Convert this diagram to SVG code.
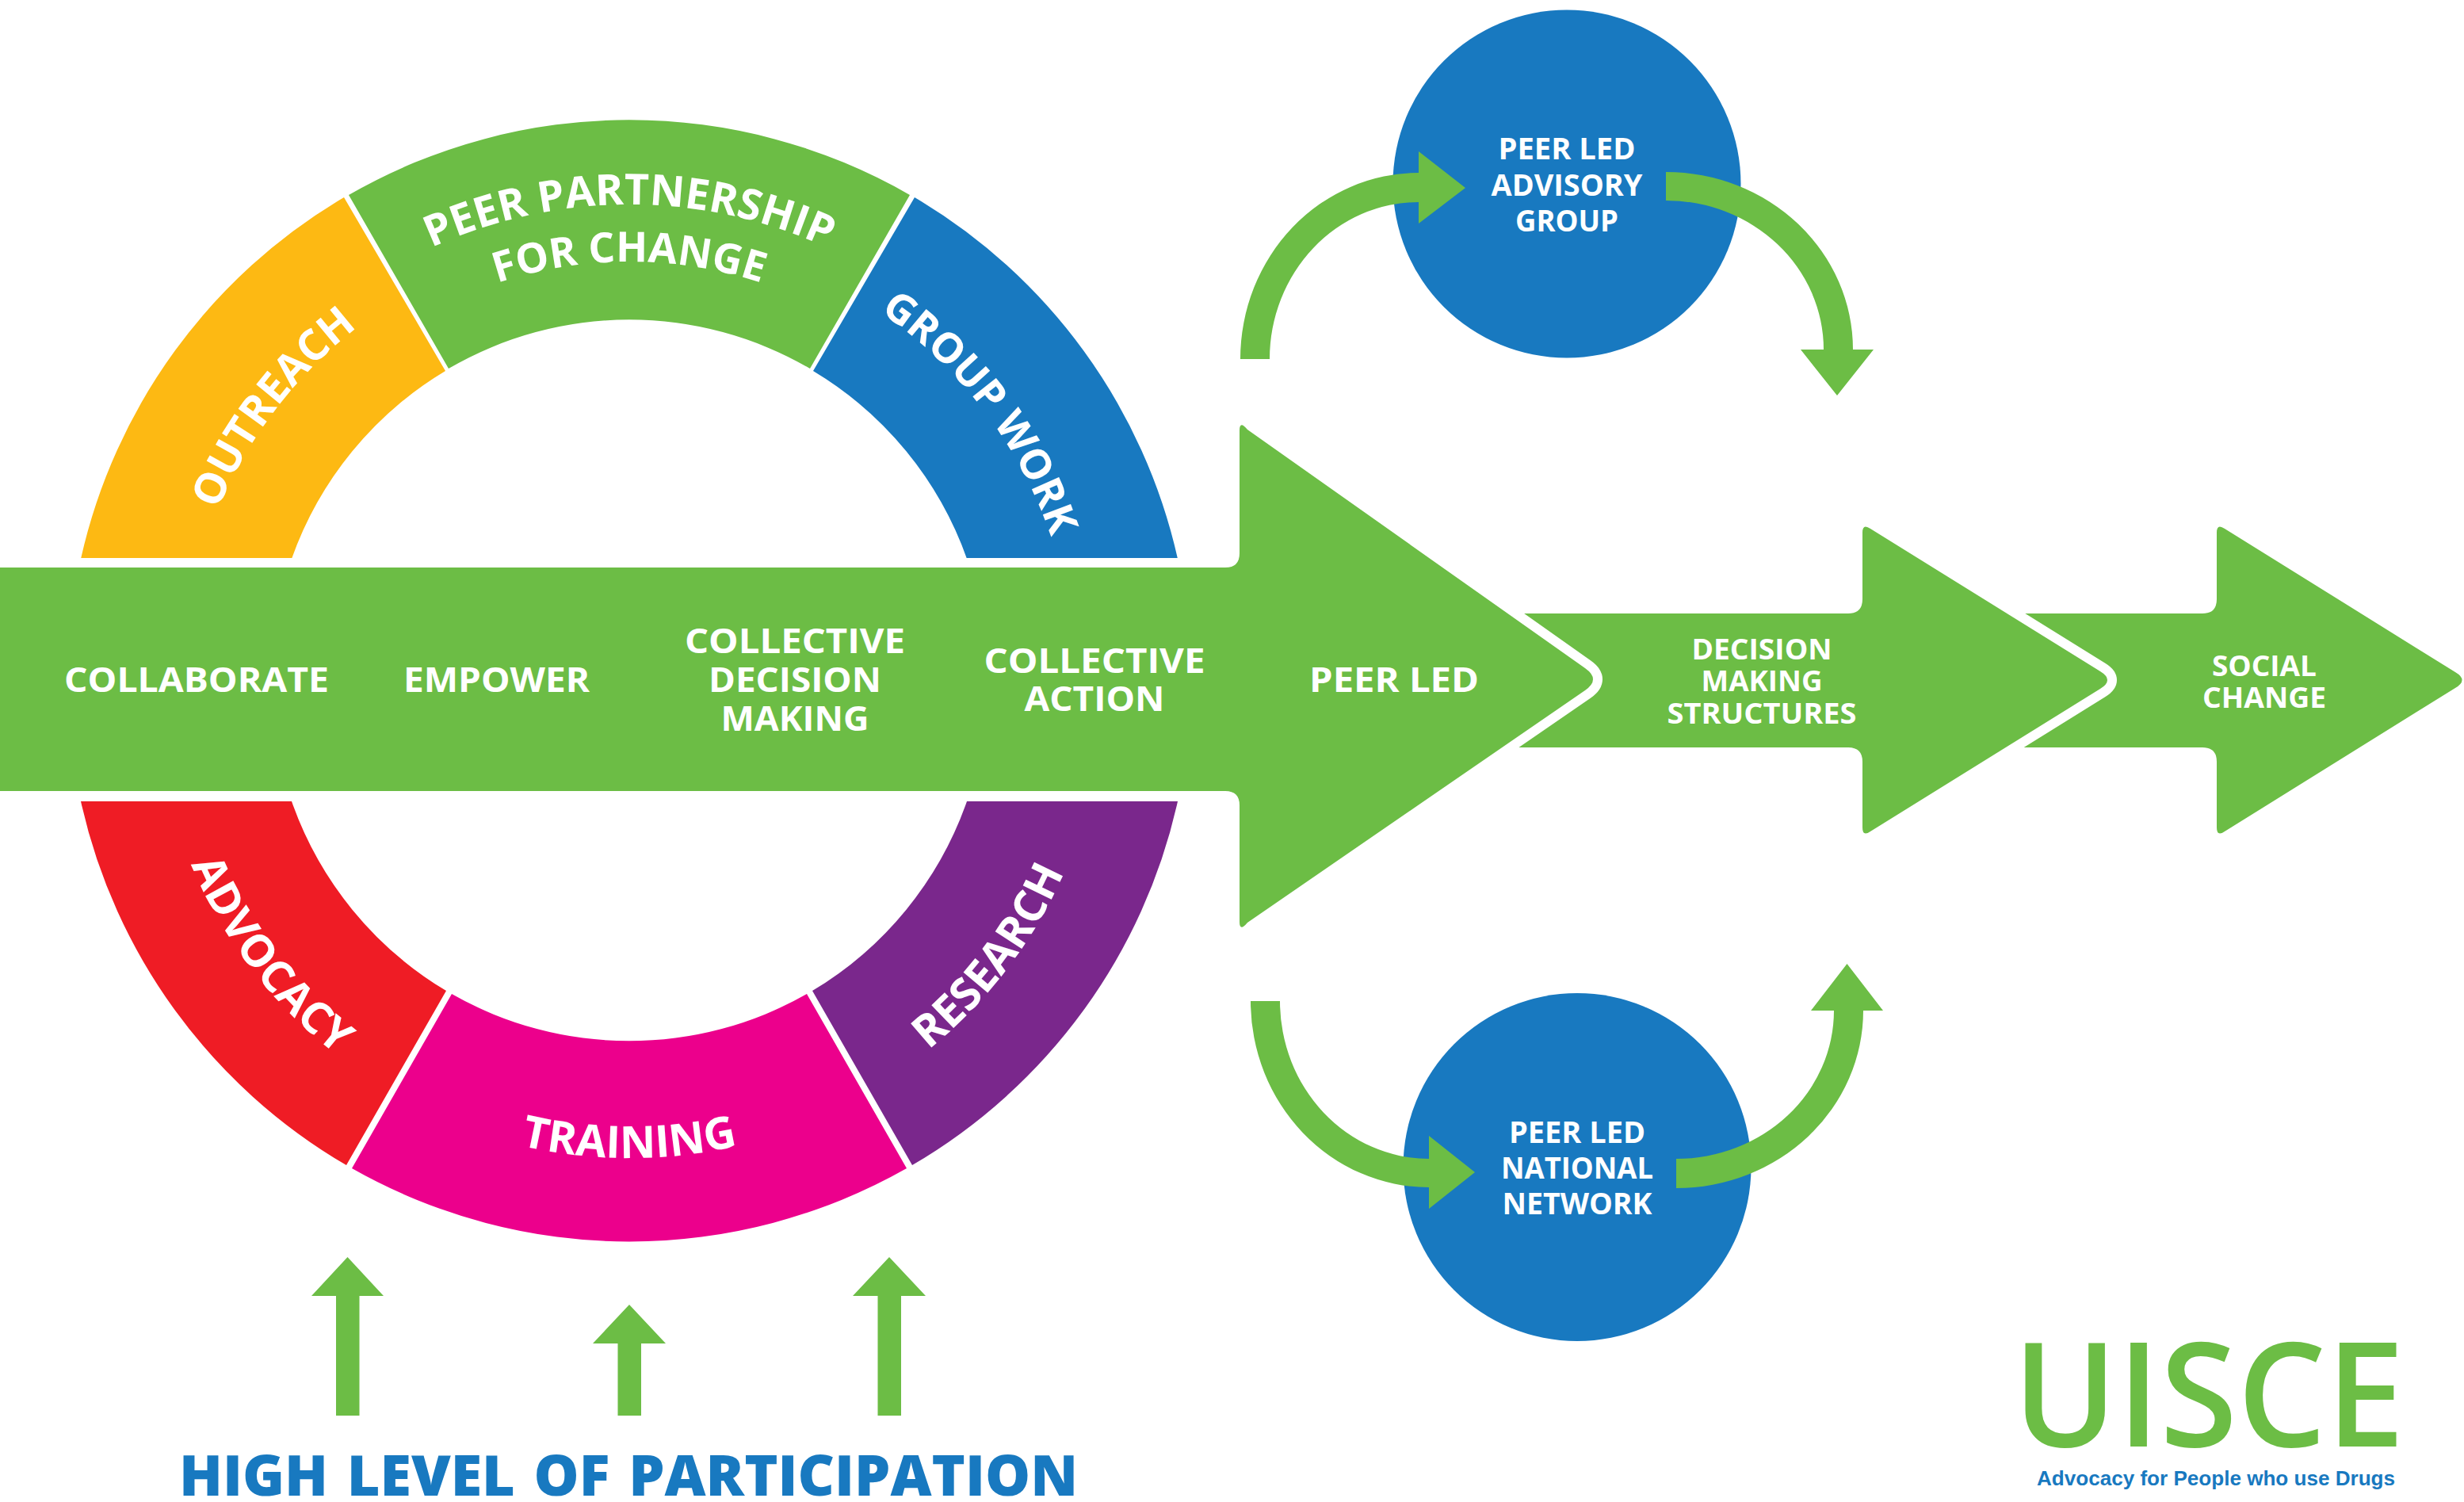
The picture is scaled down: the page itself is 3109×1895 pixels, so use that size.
<svg xmlns="http://www.w3.org/2000/svg" width="3109" height="1895" viewBox="0 0 3109 1895">
<style>
.g{fill:#6CBD45}
.arrow{fill:#6CBD45;stroke:#fff;stroke-width:24;stroke-linejoin:round;paint-order:stroke}
.l{font-family:"Open Sans","Noto Sans",sans-serif;font-weight:700;fill:#fff;text-anchor:middle}
.b{font-size:43px}
.s{font-size:36px}
.c{font-size:37px}
.r{font-size:54px}
.r2{font-size:56px}
.r3{font-size:52.500px}
</style>
<defs>
<path id="up600" d="M194 858A600 600 0 0 1 1394 858"/>
<path id="up528" d="M266 858A528 528 0 0 1 1322 858"/>
<path id="up562" d="M232 858A562 562 0 0 1 1356 858"/>
<path id="dn600" d="M194 858A600 600 0 0 0 1394 858"/>
<path id="dn603" d="M191 858A603 603 0 0 0 1397 858"/>
</defs>
<g id="ring">
<g id="outreach"><path fill="#FDB913" d="M102 705A709 709 0 0 1 434 249L562 468A452.500 452.500 0 0 0 368 705Z"/>
<text class="l r"><textPath href="#up562" startOffset="20.800%">OUTREACH</textPath></text></g>
<g id="peer-partnership"><path class="g" d="M440 246A709 709 0 0 1 1148 246L1022 465A452.500 452.500 0 0 0 566 465Z"/>
<text class="l r"><textPath href="#up600" startOffset="50%">PEER PARTNERSHIP</textPath></text>
<text class="l r3"><textPath href="#up528" startOffset="50%">FOR CHANGE</textPath></text></g>
<g id="group-work"><path fill="#1879C0" d="M1154 249A709 709 0 0 1 1486 705H1220A452.500 452.500 0 0 0 1026 468Z"/>
<text class="l r3"><textPath href="#up562" startOffset="79.300%">GROUP WORK</textPath></text></g>
<g id="advocacy"><path fill="#EF1C25" d="M102 1011A709 709 0 0 0 437 1470L563 1250A452.500 452.500 0 0 1 368 1011Z"/>
<text class="l r2"><textPath href="#dn600" startOffset="20.800%">ADVOCACY</textPath></text></g>
<g id="training"><path fill="#EC008C" d="M444 1474A709 709 0 0 0 1144 1474L1018 1254A452.500 452.500 0 0 1 570 1254Z"/>
<text class="l r2"><textPath href="#dn603" startOffset="50%">TRAINING</textPath></text></g>
<g id="research"><path fill="#7A278C" d="M1151 1470A709 709 0 0 0 1486 1011H1220A452.500 452.500 0 0 1 1025 1250Z"/>
<text class="l r2"><textPath href="#dn600" startOffset="79.200%">RESEARCH</textPath></text></g>
</g>
<g id="node-advisory"><circle cx="1977" cy="232" r="219.500" fill="#1879C0"/>
<text class="l c" x="1977" y="201" textLength="173" lengthAdjust="spacingAndGlyphs">PEER LED</text>
<text class="l c" x="1977" y="247" textLength="191" lengthAdjust="spacingAndGlyphs">ADVISORY</text>
<text class="l c" x="1977" y="292" textLength="130" lengthAdjust="spacingAndGlyphs">GROUP</text></g>
<g id="node-network"><circle cx="1990" cy="1472.500" r="219.500" fill="#1879C0"/>
<text class="l c" x="1990" y="1442" textLength="172" lengthAdjust="spacingAndGlyphs">PEER LED</text>
<text class="l c" x="1990" y="1487" textLength="192" lengthAdjust="spacingAndGlyphs">NATIONAL</text>
<text class="l c" x="1990" y="1532" textLength="189" lengthAdjust="spacingAndGlyphs">NETWORK</text></g>
<g id="connectors">
<path class="g" d="M1565 453A225 235 0 0 1 1790 218V191L1849 237L1790 282V255A188 198 0 0 0 1602 453Z"/>
<path class="g" d="M2102 217A236 224 0 0 1 2338 441H2364L2318 499L2272 441H2301A199 188 0 0 0 2102 253Z"/>
<path class="g" d="M1578 1263A225 235 0 0 0 1803 1498V1525L1861 1479L1803 1433V1462A188 199 0 0 1 1615 1263Z"/>
<path class="g" d="M2115 1499A236 224 0 0 0 2351 1275H2376L2330.500 1216L2285 1275H2314A199 187 0 0 1 2115 1462Z"/>
<path class="g" d="M424 1786V1635H393L438.500 1586L484 1635H453.500V1786Z"/>
<path class="g" d="M779.500 1786V1695H748L794 1646L840 1695H809V1786Z"/>
<path class="g" d="M1107.500 1786V1635H1076L1122 1586L1168 1635H1137V1786Z"/>
</g>
<g id="arrow-social"><path class="arrow" d="M2450 774H2779Q2797 774 2797 756V672Q2797 660 2807 667L3098 848Q3115 858 3098 868L2807 1049Q2797 1056 2797 1044V961Q2797 943 2779 943H2450Z"/>
<text class="l s" x="2857" y="853" textLength="132" lengthAdjust="spacingAndGlyphs">SOCIAL</text>
<text class="l s" x="2857" y="893" textLength="156" lengthAdjust="spacingAndGlyphs">CHANGE</text></g>
<g id="arrow-decision"><path class="arrow" d="M1800 774H2332Q2350 774 2350 756V672Q2350 660 2360 667L2650 847Q2668 858 2650 869L2360 1049Q2350 1056 2350 1044V961Q2350 943 2332 943H1800Z"/>
<text class="l s" x="2223" y="832" textLength="177" lengthAdjust="spacingAndGlyphs">DECISION</text>
<text class="l s" x="2223" y="872" textLength="153" lengthAdjust="spacingAndGlyphs">MAKING</text>
<text class="l s" x="2223" y="913" textLength="239" lengthAdjust="spacingAndGlyphs">STRUCTURES</text></g>
<g id="arrow-peer-led"><path class="arrow" d="M-30 716H1546Q1564 716 1564 698V543Q1564 530 1574 542L2000 843Q2020 857 2000 871L1574 1164Q1564 1176 1564 1163V1016Q1564 998 1546 998H-30Z"/>
<text class="l b" x="248" y="873" textLength="334" lengthAdjust="spacingAndGlyphs">COLLABORATE</text>
<text class="l b" x="626.500" y="873" textLength="235" lengthAdjust="spacingAndGlyphs">EMPOWER</text>
<text class="l b" x="1003" y="824" textLength="278" lengthAdjust="spacingAndGlyphs">COLLECTIVE</text>
<text class="l b" x="1003" y="873" textLength="218" lengthAdjust="spacingAndGlyphs">DECISION</text>
<text class="l b" x="1003" y="922" textLength="187" lengthAdjust="spacingAndGlyphs">MAKING</text>
<text class="l b" x="1381" y="849" textLength="279" lengthAdjust="spacingAndGlyphs">COLLECTIVE</text>
<text class="l b" x="1381" y="897" textLength="177" lengthAdjust="spacingAndGlyphs">ACTION</text>
<text class="l b" x="1759" y="873" textLength="214" lengthAdjust="spacingAndGlyphs">PEER LED</text></g>
<text x="793" y="1887" text-anchor="middle" textLength="1134" lengthAdjust="spacingAndGlyphs" word-spacing="5" font-family="Open Sans, Noto Sans, sans-serif" font-weight="800" font-size="71" fill="#1879C0">HIGH LEVEL OF PARTICIPATION</text>
<g id="logo">
<text x="2540" y="1825" textLength="494" lengthAdjust="spacingAndGlyphs" font-family="Open Sans, Noto Sans, sans-serif" font-weight="550" font-size="183" fill="#6CBD45">UISCE</text>
<text x="2570" y="1874" textLength="452" lengthAdjust="spacingAndGlyphs" font-family="Liberation Sans, Arial, sans-serif" font-weight="700" font-size="25" fill="#1879C0">Advocacy for People who use Drugs</text>
</g>
</svg>
